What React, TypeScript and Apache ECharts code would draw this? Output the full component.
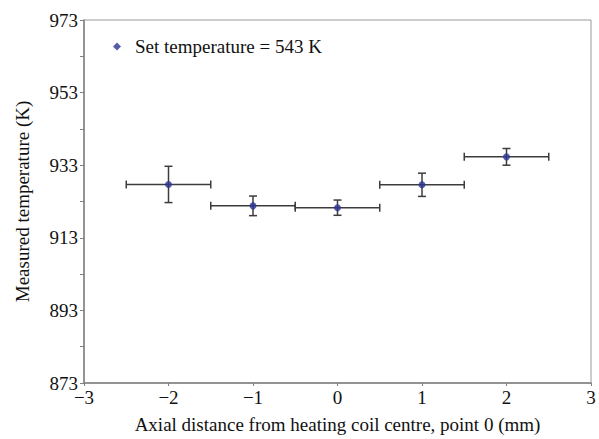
import React, { useEffect, useRef } from "react";
import * as echarts from "echarts";

const seriesName = "Set temperature = 543 K";
const distances = [-2, -1, 0, 1, 2];
const temperatures = [927.7, 921.8, 921.3, 927.6, 935.3];
const tempErrors = [5.0, 2.7, 2.1, 3.2, 2.3];
const distErrors = [0.5, 0.5, 0.5, 0.5, 0.5];
const yLabelValues = [873, 893, 913, 933, 953, 973];
const yTickValues = [873, 883, 893, 903, 913, 923, 933, 943, 953, 963, 973];

const FONT = "'Liberation Serif', 'Times New Roman', serif";
const FS = 19;

export default function App() {
  const ref = useRef<HTMLDivElement>(null);
  useEffect(() => {
    if (!ref.current) return;
    const chart = echarts.init(ref.current, null, { renderer: "svg" });
    const errData = distances.map((x, i) => [x, temperatures[i], distErrors[i], tempErrors[i]]);
    const pointData = distances.map((x, i) => [x, temperatures[i]]);
    chart.setOption({
      animation: false,
      backgroundColor: "#fff",
      textStyle: { fontFamily: FONT },
      grid: {
        left: 84,
        right: 8,
        top: 20,
        bottom: 56,
        show: true,
        borderColor: "#9a9a9a",
        borderWidth: 1,
        containLabel: false,
      },
      legend: {
        data: [{ name: seriesName, icon: "diamond", itemStyle: { color: "#2b3494" } }],
        left: 113,
        top: 37,
        padding: 0,
        itemWidth: 8,
        itemHeight: 8,
        textStyle: {
          fontFamily: FONT,
          fontSize: FS,
          color: "#111",
          padding: [0, 0, 0, 9],
        },
      },
      xAxis: {
        type: "value",
        min: -3,
        max: 3,
        interval: 1,
        name: "Axial distance from heating coil centre, point 0 (mm)",
        nameLocation: "middle",
        nameGap: 32,
        nameTextStyle: { fontFamily: FONT, fontSize: FS, color: "#111" },
        axisLine: { onZero: false, lineStyle: { color: "#808080", width: 1.5 } },
        axisTick: { show: true, inside: false, length: 3, lineStyle: { color: "#808080" } },
        axisLabel: {
          fontFamily: FONT,
          fontSize: FS,
          color: "#111",
          margin: 5,
          formatter: (v: number) => String(v).replace("-", "\u2212"),
        },
        splitLine: { show: false },
      },
      yAxis: {
        type: "value",
        min: 873,
        max: 973,
        name: "Measured temperature (K)",
        nameLocation: "middle",
        nameGap: 52,
        nameTextStyle: { fontFamily: FONT, fontSize: FS, color: "#111" },
        axisLine: { show: true, onZero: false, lineStyle: { color: "#808080", width: 1.5 } },
        axisTick: {
          show: true,
          inside: false,
          length: 4,
          customValues: yTickValues,
          lineStyle: { color: "#808080" },
        },
        axisLabel: {
          fontFamily: FONT,
          fontSize: FS,
          color: "#111",
          margin: 6,
          customValues: yLabelValues,
        },
        splitLine: { show: false },
      },
      series: [
        {
          type: "custom",
          name: "errors",
          data: errData,
          encode: { x: 0, y: 1 },
          z: 2,
          silent: true,
          renderItem: (params: any, api: any) => {
            const x = api.value(0);
            const y = api.value(1);
            const dx = api.value(2);
            const dy = api.value(3);
            const l = api.coord([x - dx, y]);
            const r = api.coord([x + dx, y]);
            const t = api.coord([x, y + dy]);
            const b = api.coord([x, y - dy]);
            const cap = 4;
            const style = { stroke: "#3c3c3c", lineWidth: 1.5 };
            const mk = (x1: number, y1: number, x2: number, y2: number) => ({
              type: "line",
              shape: { x1, y1, x2, y2 },
              style,
            });
            return {
              type: "group",
              children: [
                mk(l[0], l[1], r[0], r[1]),
                mk(l[0], l[1] - cap, l[0], l[1] + cap),
                mk(r[0], r[1] - cap, r[0], r[1] + cap),
                mk(t[0], t[1], b[0], b[1]),
                mk(t[0] - cap, t[1], t[0] + cap, t[1]),
                mk(b[0] - cap, b[1], b[0] + cap, b[1]),
              ],
            };
          },
        },
        {
          type: "scatter",
          name: seriesName,
          data: pointData,
          symbol: "circle",
          symbolSize: 7,
          z: 3,
          itemStyle: { color: "#2b3494" },
        },
      ],
    });
    return () => chart.dispose();
  }, []);
  return <div ref={ref} style={{ width: 599, height: 439, position: "absolute", left: 0, top: 0 }} />;
}
